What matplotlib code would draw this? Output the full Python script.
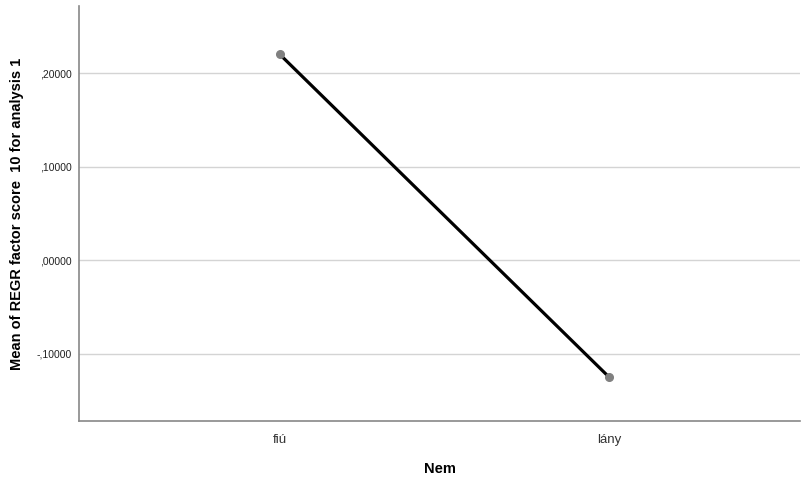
import matplotlib
matplotlib.use("Agg")
import matplotlib.pyplot as plt
from matplotlib.ticker import FuncFormatter

plt.rcParams['font.family'] = ['Liberation Sans', 'DejaVu Sans']

# data
categories = ['fiú', 'lány']
means = [0.2200, -0.1249]
y_ticks = [-0.1, 0.0, 0.1, 0.2]

def spss_fmt(v, pos):
    s = f"{v:.5f}".replace('.', ',')
    s = s.replace('0,', ',', 1)
    if s == '-,00000':
        s = ',00000'
    return s

fig = plt.figure(figsize=(8.02, 4.78), dpi=100)
ax = fig.add_axes([0.0985, 0.1192, 0.899, 0.8682])

x = list(range(len(categories)))
ax.plot(x, means, color='black', lw=2.3, zorder=3)
ax.plot(x, means, ls='', marker='o', ms=5.5, color='#808080', zorder=4)

ax.set_xlim(-0.6095, 1.58)
ax.set_ylim(-0.1719, 0.2716)
ax.set_yticks(y_ticks)
ax.yaxis.set_major_formatter(FuncFormatter(spss_fmt))
ax.set_xticks(x)
ax.set_xticklabels(categories)

ax.grid(axis='y', color='#d4d4d4', lw=1)
ax.set_axisbelow(True)
for side in ['top', 'right']:
    ax.spines[side].set_visible(False)
for side in ['left', 'bottom']:
    ax.spines[side].set_color('#888888')
    ax.spines[side].set_linewidth(1.2)

ax.tick_params(axis='y', length=0, labelsize=7.5, pad=5, colors='#222222')
ax.tick_params(axis='x', length=0, labelsize=9.5, pad=9, colors='#333333')

ax.set_xlabel('Nem', fontsize=10.5, fontweight='bold', labelpad=12)
ax.set_ylabel('Mean of REGR factor score  10 for analysis 1', fontsize=10.5,
              fontweight='bold', labelpad=9)

fig.savefig('out.png', dpi=100)
